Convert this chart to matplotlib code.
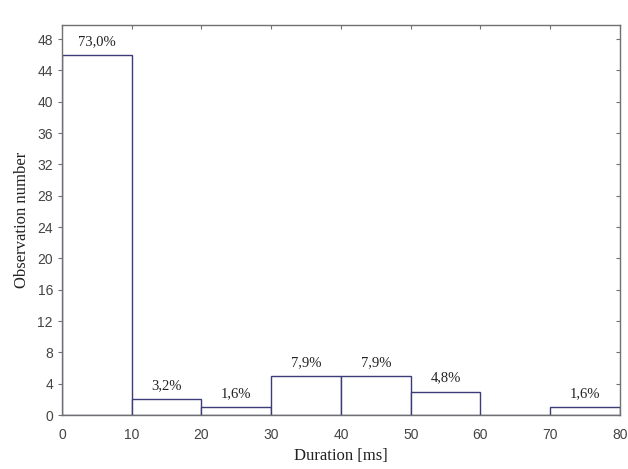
import matplotlib
matplotlib.use("Agg")
import matplotlib.pyplot as plt
from matplotlib import lines as mlines

bin_edges = [0, 10, 20, 30, 40, 50, 60, 70, 80]
counts = [46, 2, 1, 5, 5, 3, 0, 1]
pct_labels = ["73,0%", "3,2%", "1,6%", "7,9%", "7,9%", "4,8%", "", "1,6%"]

fig = plt.figure(figsize=(6.28, 4.69), dpi=100)
ax = fig.add_axes([0.0987, 0.1151, 0.8885, 0.8316])

lefts = bin_edges[:-1]
ax.bar(lefts, counts, width=10, align="edge", facecolor="white",
       edgecolor="#3c3c78", linewidth=1.0, zorder=2)

for x0, c, lab in zip(lefts, counts, pct_labels):
    if lab:
        ax.annotate(lab, (x0 + 5, c), xytext=(0, 5), textcoords="offset points",
                    ha="center", va="bottom", fontsize=10.5,
                    family="Liberation Serif", color="#222222")

ax.set_xlim(0, 80)
ax.set_ylim(0, 49.8)
ax.set_xticks(range(0, 81, 10))
ax.set_yticks(range(0, 49, 4))

for s in ax.spines.values():
    s.set_color("#707070")
    s.set_linewidth(1.0)

ax.tick_params(axis="y", left=True, right=True, length=3, color="#707070",
               labelsize=10, labelcolor="#444444")
ax.tick_params(axis="x", bottom=False, top=True, direction="in", length=3,
               color="#707070", labelsize=10, labelcolor="#444444", pad=9)
# left ticks outward, right ticks inward
for t in ax.yaxis.get_major_ticks():
    t.tick1line.set_marker(mlines.TICKLEFT)
    t.tick2line.set_marker(mlines.TICKLEFT)

for lab in ax.get_xticklabels() + ax.get_yticklabels():
    lab.set_family("Liberation Sans")

ax.set_xlabel("Duration [ms]", family="Liberation Serif", fontsize=12,
              color="#222222", labelpad=5)
ax.set_ylabel("Observation number", family="Liberation Serif", fontsize=12,
              color="#222222", labelpad=5)

fig.savefig("out.png", dpi=100)
